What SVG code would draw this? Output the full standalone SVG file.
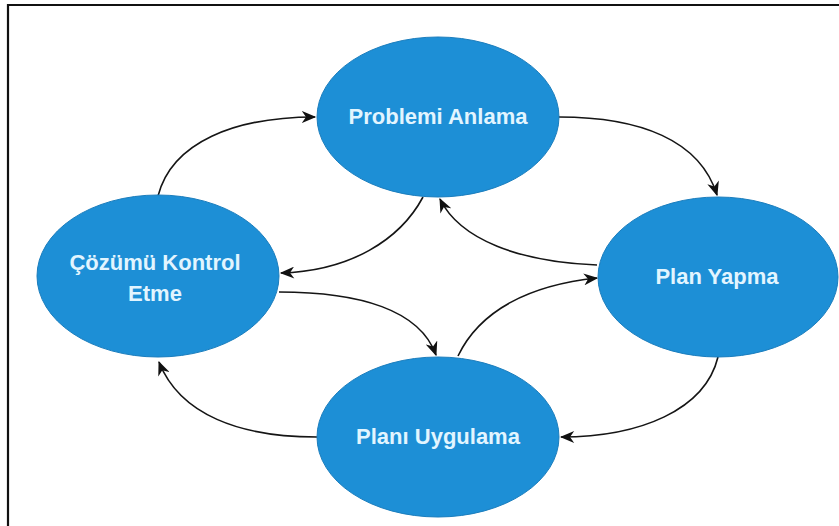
<svg xmlns="http://www.w3.org/2000/svg" width="839" height="526" viewBox="0 0 839 526">
<defs>
<style>
.node ellipse{fill:#1d8fd6;stroke:#1a7dbd;stroke-width:1}
.node text{font-family:"Liberation Sans",Arial,sans-serif;font-weight:bold;font-size:22px;fill:#e2f5ff;text-anchor:middle}
.edge{fill:none;stroke:#151515;stroke-width:1.6;marker-end:url(#arr)}
</style>
<marker id="arr" viewBox="0 0 12 10" refX="11" refY="5" markerWidth="15" markerHeight="12" markerUnits="userSpaceOnUse" orient="auto">
<path d="M0,0 L12,5 L0,10 L3.5,5 z" fill="#111"/>
</marker>
</defs>
<rect width="839" height="526" fill="#ffffff"/>
<path d="M8,526 L8,5 L839,5" fill="none" stroke="#111" stroke-width="2.2"/>
<g id="connectors">
<path class="edge" d="M158,196 C172,142 235,117 315,117"/>
<path class="edge" d="M559,117 C640,117 700,140 717,195"/>
<path class="edge" d="M718,357 C705,410 640,437 561,437"/>
<path class="edge" d="M317,437 C240,437 180,415 159,362"/>
<path class="edge" d="M423,197 C400,240 350,271 281,273"/>
<path class="edge" d="M279,292 C360,292 420,310 436,355"/>
<path class="edge" d="M458,356 C480,310 530,285 597,278"/>
<path class="edge" d="M597,265 C520,262 460,240 440,199"/>
</g>
<g id="node-problemi-anlama" class="node">
<ellipse cx="438" cy="117" rx="121" ry="80"/>
<text x="438" y="124">Problemi Anlama</text>
</g>
<g id="node-cozumu-kontrol-etme" class="node">
<ellipse cx="158" cy="276" rx="121" ry="81"/>
<text x="155" y="270">Çözümü Kontrol</text>
<text x="155" y="301">Etme</text>
</g>
<g id="node-plan-yapma" class="node">
<ellipse cx="718" cy="277" rx="120" ry="80"/>
<text x="717" y="284">Plan Yapma</text>
</g>
<g id="node-plani-uygulama" class="node">
<ellipse cx="438" cy="437" rx="121" ry="80"/>
<text x="438" y="444">Planı Uygulama</text>
</g>
</svg>
